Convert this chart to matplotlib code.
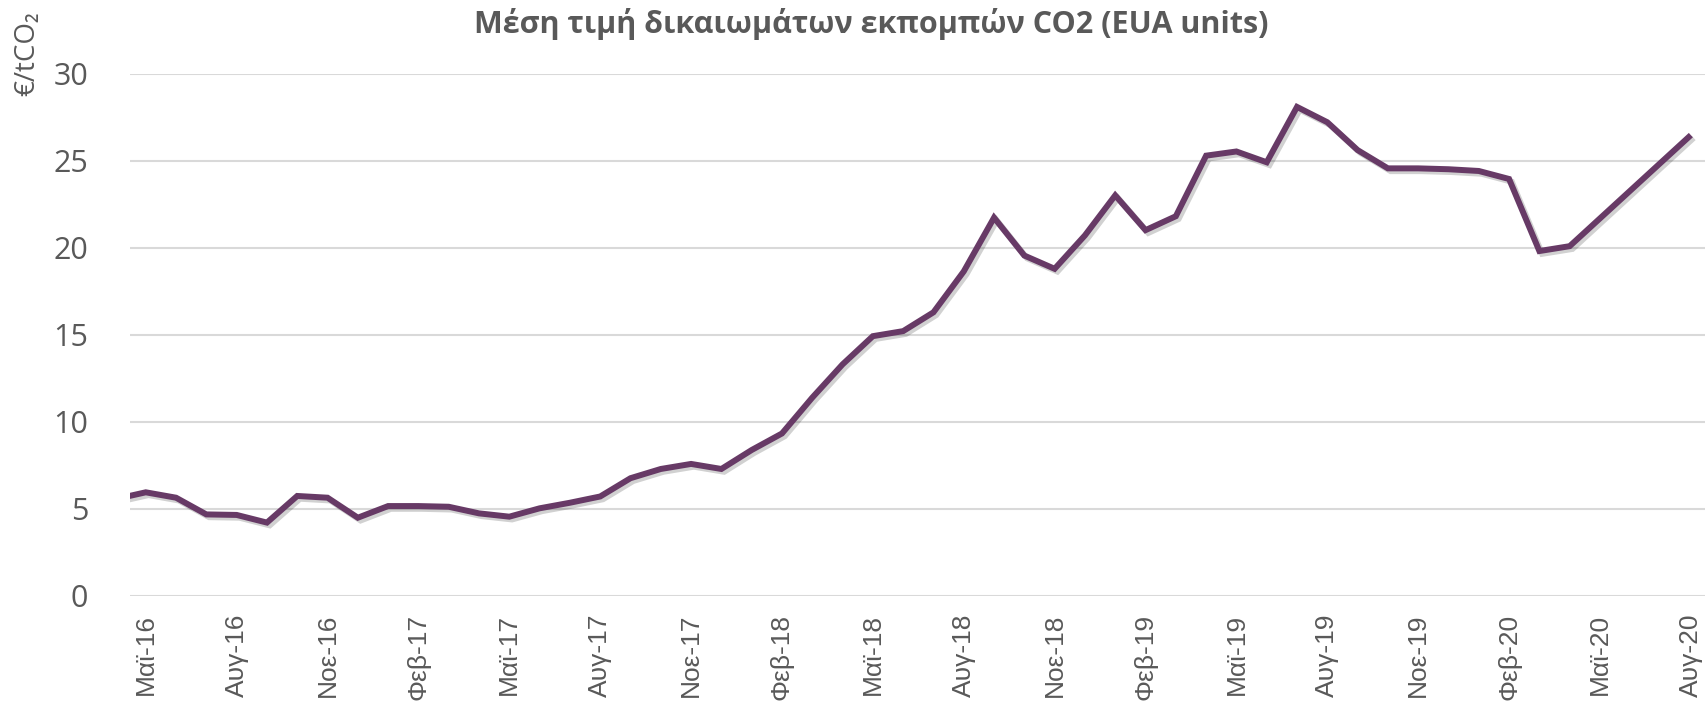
import numpy as np
import matplotlib
matplotlib.use("Agg")
import matplotlib.pyplot as plt
import matplotlib.patheffects as pe

# ---- data (monthly averages, Apr-16 .. Aug-20; May-Jul 2020 missing) ----
month_index = list(range(-1, 52))  # -1 = Apr-16, 0 = May-16, ... 51 = Aug-20
prices = [5.55,
          5.94, 5.63, 4.67, 4.64, 4.20, 5.73, 5.63, 4.48,
          5.15, 5.15, 5.11, 4.73, 4.54, 5.02, 5.34, 5.70, 6.75, 7.28, 7.57, 7.28,
          8.37, 9.32, 11.38, 13.29, 14.91, 15.20, 16.28, 18.63, 21.72, 19.54, 18.78, 20.70,
          23.00, 21.00, 21.80, 25.28, 25.52, 24.90, 28.08, 27.20, 25.60, 24.55, 24.55, 24.50,
          24.40, 23.94, 19.80, 20.08, np.nan, np.nan, np.nan, 26.46]
tick_positions = list(range(0, 52, 3))
tick_labels = ["Μαϊ-16", "Αυγ-16", "Νοε-16", "Φεβ-17", "Μαϊ-17", "Αυγ-17",
               "Νοε-17", "Φεβ-18", "Μαϊ-18", "Αυγ-18", "Νοε-18", "Φεβ-19",
               "Μαϊ-19", "Αυγ-19", "Νοε-19", "Φεβ-20", "Μαϊ-20", "Αυγ-20"]
y_ticks = [0, 5, 10, 15, 20, 25, 30]

title = "Μέση τιμή δικαιωμάτων εκπομπών CO2 (EUA units)"
ylabel = "€/tCO₂"

plt.rcParams['font.family'] = ['Open Sans', 'DejaVu Sans']
text_color = "#595959"
line_color = "#673A66"
grid_color = "#D9D9D9"

fig = plt.figure(figsize=(17.06, 7.06), dpi=100)
ax = fig.add_axes([130/1706, 1 - 595.7/706, 1 - 130/1706, (595.7 - 73.5)/706])

x = np.array(month_index, dtype=float)
y = np.array(prices, dtype=float)
valid = ~np.isnan(y)
ax.plot(x[valid], y[valid], color=line_color, lw=4.3, solid_joinstyle='miter',
        solid_capstyle='butt', clip_on=True, zorder=3,
        path_effects=[pe.SimpleLineShadow(offset=(2, -2), shadow_color='black', alpha=0.18),
                      pe.Normal()])

ax.set_xlim(-0.52, 51.5)
ax.set_ylim(0, 30)
ax.set_yticks(y_ticks)
ax.set_yticklabels([str(v) for v in y_ticks])
ax.set_xticks(tick_positions)
ax.set_xticklabels(tick_labels, rotation=90, va='top', ha='center',
                   family=['Liberation Sans', 'DejaVu Sans'], fontsize=19)

ax.grid(axis='y', color=grid_color, lw=1.5, zorder=0)
ax.grid(axis='x', visible=False)
for s in ax.spines.values():
    s.set_visible(False)
ax.tick_params(axis='both', length=0, colors=text_color)
ax.tick_params(axis='y', pad=30, labelsize=22)
ax.tick_params(axis='x', pad=13)
ax.set_axisbelow(True)

fig.text(871/1706, 1 - 24/706, title, ha='center', va='center',
         fontsize=22, fontweight='bold', color=text_color)
fig.text(27/1706, 1 - 11/706, ylabel, rotation=90, ha='center', va='top',
         fontsize=20, color=text_color)

fig.savefig("out.png", dpi=100)
